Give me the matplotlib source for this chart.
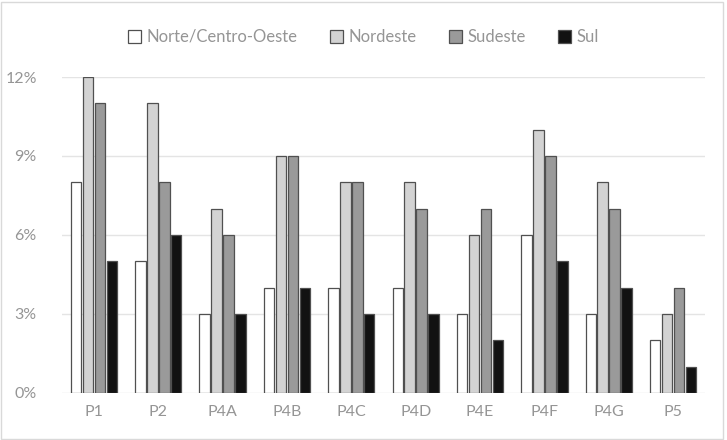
import matplotlib.pyplot as plt
import numpy as np
from matplotlib.ticker import FuncFormatter

categories = ["P1", "P2", "P4A", "P4B", "P4C", "P4D", "P4E", "P4F", "P4G", "P5"]
norte_co = [8, 5, 3, 4, 4, 4, 3, 6, 3, 2]
nordeste = [12, 11, 7, 9, 8, 8, 6, 10, 8, 3]
sudeste = [11, 8, 6, 9, 8, 7, 7, 9, 7, 4]
sul = [5, 6, 3, 4, 3, 3, 2, 5, 4, 1]

series = {
    "Norte/Centro-Oeste": (norte_co, "#ffffff"),
    "Nordeste": (nordeste, "#d3d3d3"),
    "Sudeste": (sudeste, "#9a9a9a"),
    "Sul": (sul, "#121212"),
}

plt.rcParams['font.family'] = ['Lato', 'DejaVu Sans']
text_color = "#959595"

fig = plt.figure(figsize=(7.27, 4.40), dpi=100)
ax = fig.add_axes([0.085, 0.107, 0.885, 0.718])

x = np.arange(len(categories))
width = 0.165
gap = 0.02
multiplier = -1.5
for label, (vals, color) in series.items():
    ax.bar(x + multiplier * (width + gap), vals, width, color=color,
           edgecolor="#505050", linewidth=0.9, label=label, zorder=3)
    multiplier += 1

ax.set_xlim(-0.5, len(categories) - 0.5)
ax.set_ylim(0, 12)
ax.set_yticks([0, 3, 6, 9, 12])
ax.yaxis.set_major_formatter(FuncFormatter(lambda v, p: f"{v:.0f}%"))
ax.set_xticks(x, categories)
ax.grid(axis="y", color="#e4e4e4", linewidth=1, zorder=0)
for s in ax.spines.values():
    s.set_visible(False)
ax.tick_params(length=0, colors=text_color, labelsize=11.5, pad=9)
ax.tick_params(axis="y", pad=18)

leg = fig.legend(*ax.get_legend_handles_labels(), loc="center",
                 bbox_to_anchor=(0.5, 1 - 37 / 440), ncols=4,
                 frameon=False, fontsize=12, handlelength=0.8, handleheight=0.8,
                 handletextpad=0.35, columnspacing=1.9)
for t in leg.get_texts():
    t.set_color(text_color)

fig.patches.append(plt.Rectangle((0.002, 0.002), 0.993, 0.993, transform=fig.transFigure,
                                 fill=False, edgecolor="#d9d9d9", linewidth=1))

fig.savefig("out.png", dpi=100)
